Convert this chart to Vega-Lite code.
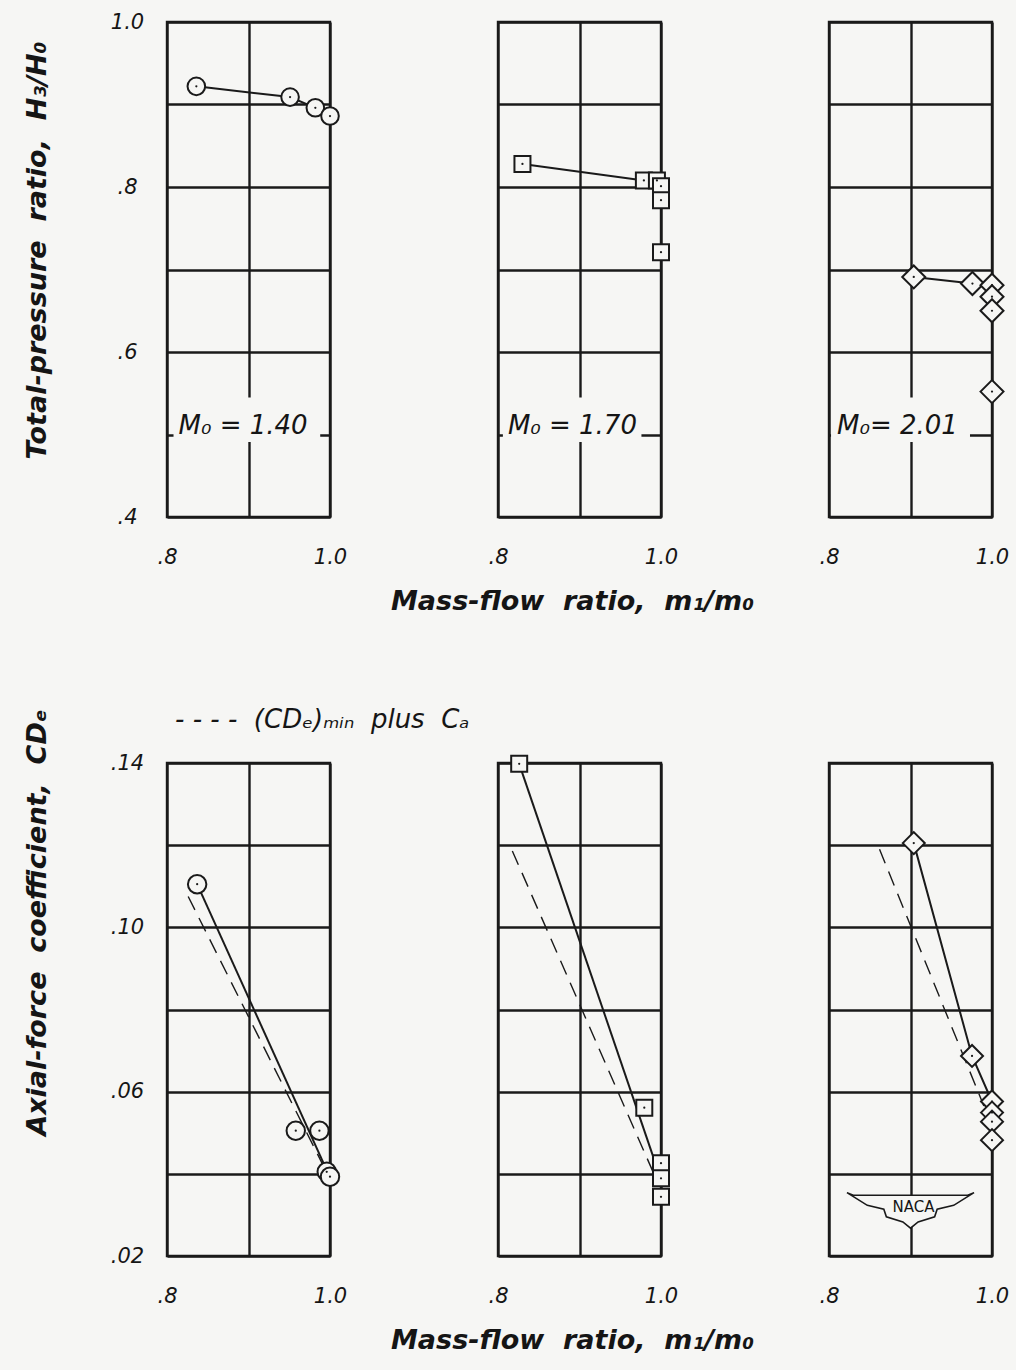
{
  "$schema": "https://vega.github.io/schema/vega-lite/v6.json",
  "autosize": "none",
  "padding": {"left": 167, "top": 22, "right": 849, "bottom": 1348},
  "background": "#f6f6f4",
  "bounds": "flush",
  "spacing": 741,
  "config": {
    "font": "DejaVu Sans",
    "view": {"stroke": "#1a1a1a", "strokeWidth": 2.4},
    "axis": {
      "grid": true, "gridColor": "#1a1a1a", "gridWidth": 2.4, "gridOpacity": 1,
      "domain": false, "ticks": false, "tickSize": 0,
      "labelFont": "DejaVu Sans", "labelFontStyle": "italic", "labelFontSize": 21, "labelColor": "#151515",
      "titleFont": "DejaVu Sans", "titleFontStyle": "italic", "titleFontWeight": "bold", "titleFontSize": 27, "titleColor": "#151515"
    },
    "axisX": {"labelPadding": 29, "labelFlush": false, "labelOverlap": false, "titlePadding": 21, "titleAlign": "center", "titleX": 74},
    "axisY": {"labelAlign": "center", "labelPadding": 40, "labelFlush": false, "labelOverlap": false, "titleAngle": 270, "titleAlign": "center", "titleBaseline": "alphabetic"}
  },
  "datasets": {
    "pts": [
      {"panel": "t1", "role": "pt", "m": 0.836, "v": 0.922},
      {"panel": "t1", "role": "pt", "m": 0.951, "v": 0.909},
      {"panel": "t1", "role": "pt", "m": 0.982, "v": 0.896},
      {"panel": "t1", "role": "pt", "m": 1.0, "v": 0.886},
      {"panel": "t2", "role": "pt", "m": 0.830, "v": 0.828},
      {"panel": "t2", "role": "pt", "m": 0.979, "v": 0.808},
      {"panel": "t2", "role": "pt", "m": 0.995, "v": 0.808},
      {"panel": "t2", "role": "pt", "m": 1.0, "v": 0.801},
      {"panel": "t2", "role": "pt", "m": 1.0, "v": 0.784},
      {"panel": "t2", "role": "pt", "m": 1.0, "v": 0.721},
      {"panel": "t3", "role": "pt", "m": 0.904, "v": 0.691},
      {"panel": "t3", "role": "pt", "m": 0.976, "v": 0.683},
      {"panel": "t3", "role": "pt", "m": 1.0, "v": 0.681},
      {"panel": "t3", "role": "pt", "m": 1.0, "v": 0.667},
      {"panel": "t3", "role": "pt", "m": 1.0, "v": 0.650},
      {"panel": "t3", "role": "pt", "m": 1.0, "v": 0.552},
      {"panel": "b1", "role": "ptx", "m": 0.837, "v": 0.1105},
      {"panel": "b1", "role": "ptx", "m": 0.958, "v": 0.0505},
      {"panel": "b1", "role": "ptx", "m": 0.987, "v": 0.0505},
      {"panel": "b1", "role": "ptx", "m": 0.996, "v": 0.0405},
      {"panel": "b1", "role": "ptx", "m": 1.0, "v": 0.0393},
      {"panel": "b1", "role": "fit", "m": 0.837, "v": 0.1105},
      {"panel": "b1", "role": "fit", "m": 0.998, "v": 0.040},
      {"panel": "b1", "role": "dash", "m": 0.826, "v": 0.1075},
      {"panel": "b1", "role": "dash", "m": 0.993, "v": 0.0415},
      {"panel": "b2", "role": "ptx", "m": 0.826, "v": 0.1398},
      {"panel": "b2", "role": "ptx", "m": 0.9795, "v": 0.0561},
      {"panel": "b2", "role": "ptx", "m": 1.0, "v": 0.0426},
      {"panel": "b2", "role": "ptx", "m": 1.0, "v": 0.0389},
      {"panel": "b2", "role": "ptx", "m": 1.0, "v": 0.0344},
      {"panel": "b2", "role": "fit", "m": 0.826, "v": 0.1398},
      {"panel": "b2", "role": "fit", "m": 0.995, "v": 0.0415},
      {"panel": "b2", "role": "dash", "m": 0.8176, "v": 0.1186},
      {"panel": "b2", "role": "dash", "m": 0.9906, "v": 0.0403},
      {"panel": "b3", "role": "pt", "m": 0.904, "v": 0.1205},
      {"panel": "b3", "role": "pt", "m": 0.9755, "v": 0.0687},
      {"panel": "b3", "role": "pt", "m": 1.0, "v": 0.0576},
      {"panel": "b3", "role": "pt", "m": 1.0, "v": 0.0549},
      {"panel": "b3", "role": "pt", "m": 1.0, "v": 0.0527},
      {"panel": "b3", "role": "pt", "m": 1.0, "v": 0.0482},
      {"panel": "b3", "role": "dash", "m": 0.862, "v": 0.119},
      {"panel": "b3", "role": "dash", "m": 0.99, "v": 0.0565}
    ],
    "labels": [
      {"panel": "t1", "m": 0.808, "m2": 0.988, "v": 0.491, "v2": 0.545, "text": "M₀ = 1.40"},
      {"panel": "t2", "m": 0.806, "m2": 0.976, "v": 0.491, "v2": 0.545, "text": "M₀ = 1.70"},
      {"panel": "t3", "m": 0.8025, "m2": 0.973, "v": 0.491, "v2": 0.545, "text": "M₀= 2.01"}
    ],
    "notes": [
      {"panel": "b1", "m": 0.8, "v": 0.14, "text": "- - - -\u00a0\u00a0(CDₑ)ₘᵢₙ\u00a0\u00a0plus\u00a0\u00a0Cₐ"}
    ],
    "logo": [
      {"panel": "b3", "m": 0.9, "v": 0.0348, "text": "NACA"}
    ]
  },
  "vconcat": [
    {
      "spacing": 168,
      "bounds": "flush",
      "hconcat": [
        {
          "width": 163, "height": 495,
          "encoding": {
            "x": {"field": "m", "type": "quantitative", "scale": {"domain": [0.8, 1.0], "nice": false, "zero": false},
                  "axis": {"values": [0.8, 0.9, 1.0], "labelExpr": "round(datum.value*10) == 9 ? '' : replace(format(datum.value, '.1f'), '0.', '.')", "title": null}},
            "y": {"field": "v", "type": "quantitative", "scale": {"domain": [0.4, 1.0], "nice": false, "zero": false},
                  "axis": {"values": [0.4, 0.5, 0.6, 0.7, 0.8, 0.9, 1.0], "labelExpr": "round(datum.value*10) % 2 == 0 ? replace(format(datum.value, '.1f'), '0.', '.') : ''", "title": "Total-pressure\u00a0\u00a0ratio,\u00a0\u00a0H₃/H₀", "titleX": -122, "titleY": 228}}
          },
          "layer": [
            {"data": {"name": "labels"}, "transform": [{"filter": "datum.panel == 't1'"}], "mark": {"type": "rect", "fill": "#f6f6f4"}, "encoding": {"x2": {"field": "m2"}, "y2": {"field": "v2"}}},
            {"data": {"name": "pts"}, "transform": [{"filter": "datum.panel == 't1' && (datum.role == 'pt' || datum.role == 'fit')"}], "mark": {"type": "line", "stroke": "#1a1a1a", "strokeWidth": 2}, "encoding": {"order": {"field": "v", "sort": "descending"}}},
            {"data": {"name": "pts"}, "transform": [{"filter": "datum.panel == 't1' && (datum.role == 'pt' || datum.role == 'ptx')"}], "mark": {"type": "point", "shape": "circle", "size": 310, "filled": true, "fill": "#f6f6f4", "stroke": "#1a1a1a", "strokeWidth": 2, "opacity": 1}},
            {"data": {"name": "pts"}, "transform": [{"filter": "datum.panel == 't1' && (datum.role == 'pt' || datum.role == 'ptx')"}], "mark": {"type": "point", "shape": "circle", "size": 5, "filled": true, "fill": "#1a1a1a", "opacity": 1}},
            {"data": {"name": "labels"}, "transform": [{"filter": "datum.panel == 't1'"}], "mark": {"type": "text", "align": "left", "baseline": "alphabetic", "dx": 5, "dy": -8, "font": "DejaVu Sans", "fontSize": 26, "fontStyle": "italic", "color": "#151515"}, "encoding": {"text": {"field": "text"}}}
          ]
        },
        {
          "width": 163, "height": 495,
          "encoding": {
            "x": {"field": "m", "type": "quantitative", "scale": {"domain": [0.8, 1.0], "nice": false, "zero": false},
                  "axis": {"values": [0.8, 0.9, 1.0], "labelExpr": "round(datum.value*10) == 9 ? '' : replace(format(datum.value, '.1f'), '0.', '.')", "title": "Mass-flow\u00a0\u00a0ratio,\u00a0\u00a0m₁/m₀"}},
            "y": {"field": "v", "type": "quantitative", "scale": {"domain": [0.4, 1.0], "nice": false, "zero": false},
                  "axis": {"values": [0.4, 0.5, 0.6, 0.7, 0.8, 0.9, 1.0], "labels": false, "title": null}}
          },
          "layer": [
            {"data": {"name": "labels"}, "transform": [{"filter": "datum.panel == 't2'"}], "mark": {"type": "rect", "fill": "#f6f6f4"}, "encoding": {"x2": {"field": "m2"}, "y2": {"field": "v2"}}},
            {"data": {"name": "pts"}, "transform": [{"filter": "datum.panel == 't2' && (datum.role == 'pt' || datum.role == 'fit')"}], "mark": {"type": "line", "stroke": "#1a1a1a", "strokeWidth": 2}, "encoding": {"order": {"field": "v", "sort": "descending"}}},
            {"data": {"name": "pts"}, "transform": [{"filter": "datum.panel == 't2' && (datum.role == 'pt' || datum.role == 'ptx')"}], "mark": {"type": "point", "shape": "square", "size": 256, "filled": true, "fill": "#f6f6f4", "stroke": "#1a1a1a", "strokeWidth": 2, "opacity": 1}},
            {"data": {"name": "pts"}, "transform": [{"filter": "datum.panel == 't2' && (datum.role == 'pt' || datum.role == 'ptx')"}], "mark": {"type": "point", "shape": "circle", "size": 5, "filled": true, "fill": "#1a1a1a", "opacity": 1}},
            {"data": {"name": "labels"}, "transform": [{"filter": "datum.panel == 't2'"}], "mark": {"type": "text", "align": "left", "baseline": "alphabetic", "dx": 5, "dy": -8, "font": "DejaVu Sans", "fontSize": 26, "fontStyle": "italic", "color": "#151515"}, "encoding": {"text": {"field": "text"}}}
          ]
        },
        {
          "width": 163, "height": 495,
          "encoding": {
            "x": {"field": "m", "type": "quantitative", "scale": {"domain": [0.8, 1.0], "nice": false, "zero": false},
                  "axis": {"values": [0.8, 0.9, 1.0], "labelExpr": "round(datum.value*10) == 9 ? '' : replace(format(datum.value, '.1f'), '0.', '.')", "title": null}},
            "y": {"field": "v", "type": "quantitative", "scale": {"domain": [0.4, 1.0], "nice": false, "zero": false},
                  "axis": {"values": [0.4, 0.5, 0.6, 0.7, 0.8, 0.9, 1.0], "labels": false, "title": null}}
          },
          "layer": [
            {"data": {"name": "labels"}, "transform": [{"filter": "datum.panel == 't3'"}], "mark": {"type": "rect", "fill": "#f6f6f4"}, "encoding": {"x2": {"field": "m2"}, "y2": {"field": "v2"}}},
            {"data": {"name": "pts"}, "transform": [{"filter": "datum.panel == 't3' && (datum.role == 'pt' || datum.role == 'fit')"}], "mark": {"type": "line", "stroke": "#1a1a1a", "strokeWidth": 2}, "encoding": {"order": {"field": "v", "sort": "descending"}}},
            {"data": {"name": "pts"}, "transform": [{"filter": "datum.panel == 't3' && (datum.role == 'pt' || datum.role == 'ptx')"}], "mark": {"type": "point", "shape": "diamond", "size": 529, "filled": true, "fill": "#f6f6f4", "stroke": "#1a1a1a", "strokeWidth": 2, "opacity": 1}},
            {"data": {"name": "pts"}, "transform": [{"filter": "datum.panel == 't3' && (datum.role == 'pt' || datum.role == 'ptx')"}], "mark": {"type": "point", "shape": "circle", "size": 5, "filled": true, "fill": "#1a1a1a", "opacity": 1}},
            {"data": {"name": "labels"}, "transform": [{"filter": "datum.panel == 't3'"}], "mark": {"type": "text", "align": "left", "baseline": "alphabetic", "dx": 6, "dy": -8, "font": "DejaVu Sans", "fontSize": 26, "fontStyle": "italic", "color": "#151515"}, "encoding": {"text": {"field": "text"}}}
          ]
        }
      ]
    },
    {
      "spacing": 168,
      "bounds": "flush",
      "hconcat": [
        {
          "width": 163, "height": 493,
          "encoding": {
            "x": {"field": "m", "type": "quantitative", "scale": {"domain": [0.8, 1.0], "nice": false, "zero": false},
                  "axis": {"values": [0.8, 0.9, 1.0], "labelExpr": "round(datum.value*10) == 9 ? '' : replace(format(datum.value, '.1f'), '0.', '.')", "title": null}},
            "y": {"field": "v", "type": "quantitative", "scale": {"domain": [0.02, 0.14], "nice": false, "zero": false},
                  "axis": {"values": [0.02, 0.04, 0.06, 0.08, 0.10, 0.12, 0.14], "labelExpr": "round(datum.value*100) % 4 == 2 ? replace(format(datum.value, '.2f'), '0.', '.') : ''", "title": "Axial-force\u00a0\u00a0coefficient,\u00a0\u00a0CDₑ", "titleX": -122, "titleY": 159}}
          },
          "layer": [
            {"data": {"name": "pts"}, "transform": [{"filter": "datum.panel == 'b1' && datum.role == 'dash'"}], "mark": {"type": "line", "stroke": "#1a1a1a", "strokeWidth": 1.4, "strokeDash": [15, 9]}, "encoding": {"order": {"field": "v", "sort": "descending"}}},
            {"data": {"name": "pts"}, "transform": [{"filter": "datum.panel == 'b1' && (datum.role == 'pt' || datum.role == 'fit')"}], "mark": {"type": "line", "stroke": "#1a1a1a", "strokeWidth": 2}, "encoding": {"order": {"field": "v", "sort": "descending"}}},
            {"data": {"name": "pts"}, "transform": [{"filter": "datum.panel == 'b1' && (datum.role == 'pt' || datum.role == 'ptx')"}], "mark": {"type": "point", "shape": "circle", "size": 340, "filled": true, "fill": "#f6f6f4", "stroke": "#1a1a1a", "strokeWidth": 2, "opacity": 1}},
            {"data": {"name": "pts"}, "transform": [{"filter": "datum.panel == 'b1' && (datum.role == 'pt' || datum.role == 'ptx')"}], "mark": {"type": "point", "shape": "circle", "size": 5, "filled": true, "fill": "#1a1a1a", "opacity": 1}},
            {"data": {"name": "notes"}, "mark": {"type": "text", "align": "left", "baseline": "alphabetic", "dx": 8, "dy": -35, "font": "DejaVu Sans", "fontSize": 26, "fontStyle": "italic", "color": "#151515"}, "encoding": {"text": {"field": "text"}}}
          ]
        },
        {
          "width": 163, "height": 493,
          "encoding": {
            "x": {"field": "m", "type": "quantitative", "scale": {"domain": [0.8, 1.0], "nice": false, "zero": false},
                  "axis": {"values": [0.8, 0.9, 1.0], "labelExpr": "round(datum.value*10) == 9 ? '' : replace(format(datum.value, '.1f'), '0.', '.')", "title": "Mass-flow\u00a0\u00a0ratio,\u00a0\u00a0m₁/m₀"}},
            "y": {"field": "v", "type": "quantitative", "scale": {"domain": [0.02, 0.14], "nice": false, "zero": false},
                  "axis": {"values": [0.02, 0.04, 0.06, 0.08, 0.10, 0.12, 0.14], "labels": false, "title": null}}
          },
          "layer": [
            {"data": {"name": "pts"}, "transform": [{"filter": "datum.panel == 'b2' && datum.role == 'dash'"}], "mark": {"type": "line", "stroke": "#1a1a1a", "strokeWidth": 1.4, "strokeDash": [15, 9]}, "encoding": {"order": {"field": "v", "sort": "descending"}}},
            {"data": {"name": "pts"}, "transform": [{"filter": "datum.panel == 'b2' && (datum.role == 'pt' || datum.role == 'fit')"}], "mark": {"type": "line", "stroke": "#1a1a1a", "strokeWidth": 2}, "encoding": {"order": {"field": "v", "sort": "descending"}}},
            {"data": {"name": "pts"}, "transform": [{"filter": "datum.panel == 'b2' && (datum.role == 'pt' || datum.role == 'ptx')"}], "mark": {"type": "point", "shape": "square", "size": 256, "filled": true, "fill": "#f6f6f4", "stroke": "#1a1a1a", "strokeWidth": 2, "opacity": 1}},
            {"data": {"name": "pts"}, "transform": [{"filter": "datum.panel == 'b2' && (datum.role == 'pt' || datum.role == 'ptx')"}], "mark": {"type": "point", "shape": "circle", "size": 5, "filled": true, "fill": "#1a1a1a", "opacity": 1}}
          ]
        },
        {
          "width": 163, "height": 493,
          "encoding": {
            "x": {"field": "m", "type": "quantitative", "scale": {"domain": [0.8, 1.0], "nice": false, "zero": false},
                  "axis": {"values": [0.8, 0.9, 1.0], "labelExpr": "round(datum.value*10) == 9 ? '' : replace(format(datum.value, '.1f'), '0.', '.')", "title": null}},
            "y": {"field": "v", "type": "quantitative", "scale": {"domain": [0.02, 0.14], "nice": false, "zero": false},
                  "axis": {"values": [0.02, 0.04, 0.06, 0.08, 0.10, 0.12, 0.14], "labels": false, "title": null}}
          },
          "layer": [
            {"data": {"name": "pts"}, "transform": [{"filter": "datum.panel == 'b3' && datum.role == 'dash'"}], "mark": {"type": "line", "stroke": "#1a1a1a", "strokeWidth": 1.4, "strokeDash": [15, 9]}, "encoding": {"order": {"field": "v", "sort": "descending"}}},
            {"data": {"name": "pts"}, "transform": [{"filter": "datum.panel == 'b3' && (datum.role == 'pt' || datum.role == 'fit')"}], "mark": {"type": "line", "stroke": "#1a1a1a", "strokeWidth": 2}, "encoding": {"order": {"field": "v", "sort": "descending"}}},
            {"data": {"name": "pts"}, "transform": [{"filter": "datum.panel == 'b3' && (datum.role == 'pt' || datum.role == 'ptx')"}], "mark": {"type": "point", "shape": "diamond", "size": 484, "filled": true, "fill": "#f6f6f4", "stroke": "#1a1a1a", "strokeWidth": 2, "opacity": 1}},
            {"data": {"name": "pts"}, "transform": [{"filter": "datum.panel == 'b3' && (datum.role == 'pt' || datum.role == 'ptx')"}], "mark": {"type": "point", "shape": "circle", "size": 5, "filled": true, "fill": "#1a1a1a", "opacity": 1}},
            {"data": {"name": "logo"}, "mark": {"type": "point", "shape": "M-1,-0.04 L-0.9,0 L0.9,0 L1,-0.04 L0.68,0.16 L0.42,0.22 L0.38,0.34 L0.12,0.42 L0,0.52 L-0.12,0.42 L-0.38,0.34 L-0.42,0.22 L-0.68,0.16 Z", "size": 16129, "filled": true, "fill": "#f6f6f4", "stroke": "#1a1a1a", "strokeWidth": 1.6, "opacity": 1}},
            {"data": {"name": "logo"}, "mark": {"type": "text", "align": "center", "baseline": "middle", "dx": 3, "dy": 12, "font": "DejaVu Sans", "fontSize": 15, "fontWeight": "normal", "color": "#151515"}, "encoding": {"text": {"field": "text"}}}
          ]
        }
      ]
    }
  ]
}
